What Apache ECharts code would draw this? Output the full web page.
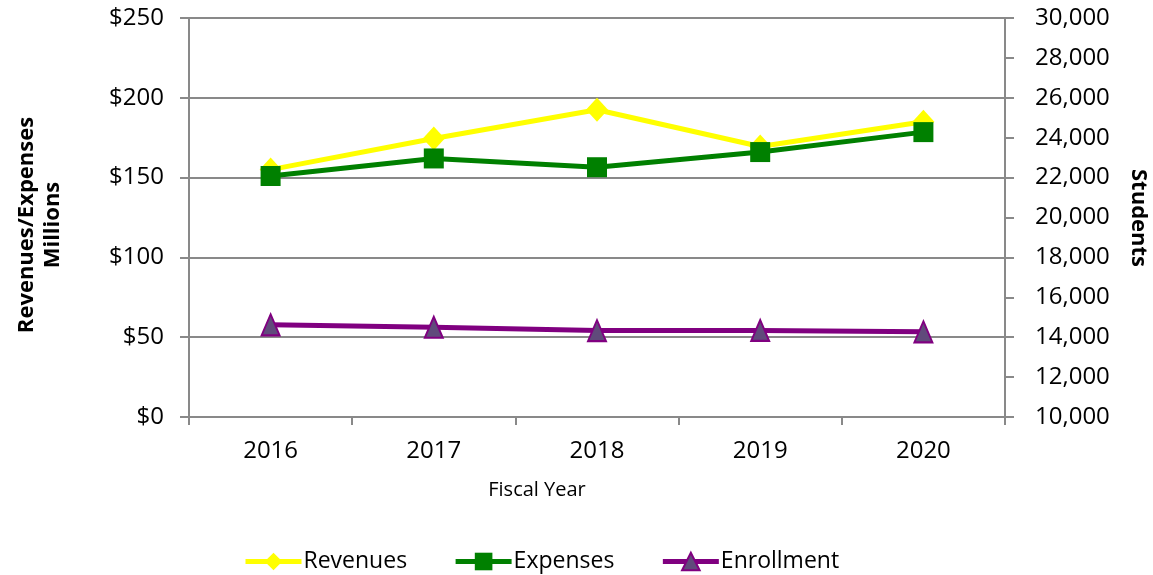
<!DOCTYPE html>
<html>
<head>
<meta charset="utf-8">
<script src="https://cdn.jsdelivr.net/npm/echarts@6/dist/echarts.min.js"></script>
<style>
  html, body { margin: 0; padding: 0; background: #fff; }
  #chart { width: 1153px; height: 575px; }
</style>
</head>
<body>
<div id="chart"></div>
<script>
const years = ['2016', '2017', '2018', '2019', '2020']
const revenues = [155, 174.5, 192.5, 169.5, 185]
const expenses = [151, 162, 156.5, 166, 178.5]
const enrollment = [14620, 14500, 14330, 14340, 14270]

const font = '"Open Sans", sans-serif'
const gray = '#898989'

const chart = echarts.init(document.getElementById('chart'))

chart.setOption({
  animation: false,
  textStyle: { fontFamily: font, color: '#000' },
  grid: { left: 189, right: 148, top: 18, bottom: 158 },
  legend: {
    left: 238,
    top: 545,
    itemWidth: 56,
    itemHeight: 22,
    itemGap: 46,
    lineStyle: { width: 5 },
    textStyle: { fontSize: 23, color: '#000', fontFamily: font, padding: [0, 0, 0, -3] },
    data: ['Revenues', 'Expenses', 'Enrollment']
  },
  graphic: [
    {
      type: 'text',
      x: 40, y: 225,
      rotation: Math.PI / 2,
      style: {
        text: 'Revenues/Expenses\nMillions',
        font: 'bold 22px ' + font,
        align: 'center',
        verticalAlign: 'middle',
        lineHeight: 26,
        fill: '#000'
      }
    },
    {
      type: 'text',
      x: 1138, y: 218,
      rotation: -Math.PI / 2,
      style: {
        text: 'Students',
        font: 'bold 22px ' + font,
        align: 'center',
        verticalAlign: 'middle',
        fill: '#000'
      }
    },
    {
      type: 'text',
      x: 537, y: 490,
      style: {
        text: 'Fiscal Year',
        font: '20px ' + font,
        align: 'center',
        verticalAlign: 'middle',
        fill: '#000'
      }
    }
  ],
  xAxis: {
    type: 'category',
    data: years,
    axisLine: { lineStyle: { color: gray, width: 2 } },
    axisTick: { show: true, length: 8, lineStyle: { color: gray, width: 2 } },
    axisLabel: { fontSize: 24, color: '#000', margin: 22 }
  },
  yAxis: [
    {
      type: 'value',
      min: 0,
      max: 250,
      interval: 50,
      axisLine: { show: true, lineStyle: { color: gray, width: 2 } },
      axisTick: { show: true, length: 9, lineStyle: { color: gray, width: 2 } },
      axisLabel: { fontSize: 24, color: '#000', margin: 25, formatter: (v) => '$' + v },
      splitLine: { show: true, lineStyle: { color: gray, width: 2 } }
    },
    {
      type: 'value',
      min: 10000,
      max: 30000,
      interval: 2000,
      position: 'right',
      axisLine: { show: true, lineStyle: { color: gray, width: 2 } },
      axisTick: { show: true, length: 9, lineStyle: { color: gray, width: 2 } },
      axisLabel: {
        fontSize: 24,
        color: '#000',
        margin: 30,
        formatter: (v) => v.toLocaleString('en-US')
      },
      splitLine: { show: false }
    }
  ],
  series: [
    {
      name: 'Revenues',
      type: 'line',
      data: revenues,
      symbol: 'diamond',
      symbolSize: [22, 24],
      lineStyle: { color: '#ffff00', width: 5 },
      itemStyle: { color: '#ffff00' }
    },
    {
      name: 'Expenses',
      type: 'line',
      data: expenses,
      symbol: 'rect',
      symbolSize: 20,
      lineStyle: { color: '#008000', width: 5 },
      itemStyle: { color: '#008000' }
    },
    {
      name: 'Enrollment',
      type: 'line',
      yAxisIndex: 1,
      data: enrollment,
      symbol: 'triangle',
      symbolSize: [18, 21],
      lineStyle: { color: '#800080', width: 5 },
      itemStyle: { color: '#604a7b', borderColor: '#800080', borderWidth: 2 }
    }
  ]
})
</script>
</body>
</html>
